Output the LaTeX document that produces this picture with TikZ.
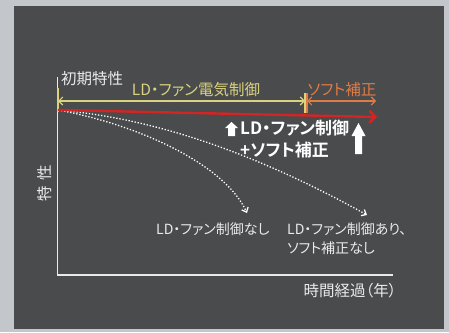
\documentclass[tikz,border=0pt]{standalone}
\usepackage{fontspec}
\setmainfont[RawFeature=+palt]{Noto Sans CJK JP}
\newfontfamily\jpbold[RawFeature=+palt]{Noto Sans CJK JP Bold}
\usetikzlibrary{arrows.meta}
\definecolor{outerbg}{HTML}{C3C7CB}
\definecolor{panel}{HTML}{4A4B4D}
\definecolor{txt}{HTML}{EAEAEA}
\definecolor{ylw}{HTML}{D9D27E}
\definecolor{org}{HTML}{E07B45}
\definecolor{redl}{HTML}{D42424}
\tikzset{
  lbl/.style={text=txt, inner sep=0pt, font=\fontsize{14}{16}\selectfont},
  axis/.style={draw=txt, line width=1.2pt},
  dim/.style={line width=1.1pt, {Straight Barb[length=4pt,width=8pt]}-{Straight Barb[length=4pt,width=8pt]}},
  dotc/.style={draw=white, line width=1.3pt, dash pattern=on 1.3pt off 1.8pt, -{Straight Barb[length=4pt,width=7pt]}},
  uparrow/.style={fill=white, draw=none},
}
\begin{document}
\begin{tikzpicture}[x=1pt,y=-1pt]
\useasboundingbox (0,0) rectangle (449,332);
\fill[outerbg] (0,0) rectangle (449,332);
\fill[panel] (14,6) rectangle (444,329);

% coordinates
\coordinate (ytop) at (57.5,77);
\coordinate (orig) at (57.5,275);
\coordinate (xend) at (393,275);
\coordinate (start) at (58,110);
\coordinate (redend) at (377,117);
\coordinate (dl) at (58,101);
\coordinate (dm) at (305,101);
\coordinate (dm2) at (307,101);
\coordinate (dr) at (376,101);
\coordinate (end1) at (247,213);
\coordinate (end2) at (367,215);

% axes
\draw[axis] (ytop) -- (orig) -- (xend);

% ticks
\draw[ylw, line width=1.3pt] (58,88) -- (58,112);
\draw[ylw, line width=1.2pt] (305,93) -- (305,113);
\draw[org, line width=1.2pt] (307,93) -- (307,113);

% dimension arrows
\draw[dim, ylw] (dl) -- (dm);
\draw[dim, org] (dm2) -- (dr);

% dotted curves
\draw[dotc] (start) .. controls (140,125) and (225,165) .. (end1);
\draw[dotc] (start) .. controls (150,118) and (250,150) .. (end2);

% red arrow
\draw[redl, line width=2.4pt, -{Straight Barb[length=6pt,width=12pt]}] (start) -- (redend);

% white up arrows
\fill[uparrow] (228,136) -- (228,128) -- (225,128) -- (231.5,122) -- (238,128) -- (235,128) -- (235,136) -- cycle;
\fill[uparrow] (355,154) -- (355,136) -- (351.5,136) -- (358.5,123) -- (365.5,136) -- (362,136) -- (362,154) -- cycle;

% labels
\node[lbl, anchor=west, font=\fontsize{15.5}{17}\selectfont] (init) at (61,79) {初期特性};
\node[lbl, text=ylw, font=\fontsize{15.5}{17}\selectfont] (ldel) at (196,90) {LD・ファン電気制御};
\node[lbl, text=org, font=\fontsize{15.5}{17}\selectfont] (soft) at (342,90) {ソフト補正};
\node[lbl, text=white, anchor=west, font=\fontsize{17}{19}\jpbold] (b1) at (240,128) {LD・ファン制御};
\node[lbl, text=white, anchor=west, font=\fontsize{17}{19}\jpbold] (b2) at (240,150) {+ソフト補正};
\node[lbl, anchor=west] (n1) at (156,229) {LD・ファン制御なし};
\node[lbl, anchor=west] (n2) at (287,229) {LD・ファン制御あり、};
\node[lbl, anchor=west] (n3) at (287,248) {ソフト補正なし};
\node[lbl, rotate=90, font=\fontsize{15.5}{17}\selectfont] (yl) at (45,183) {特\hspace{6pt}性};
\node[lbl, font=\fontsize{15.5}{17}\selectfont] (xl) at (350,291) {時間経過（年）};
\end{tikzpicture}
\end{document}
